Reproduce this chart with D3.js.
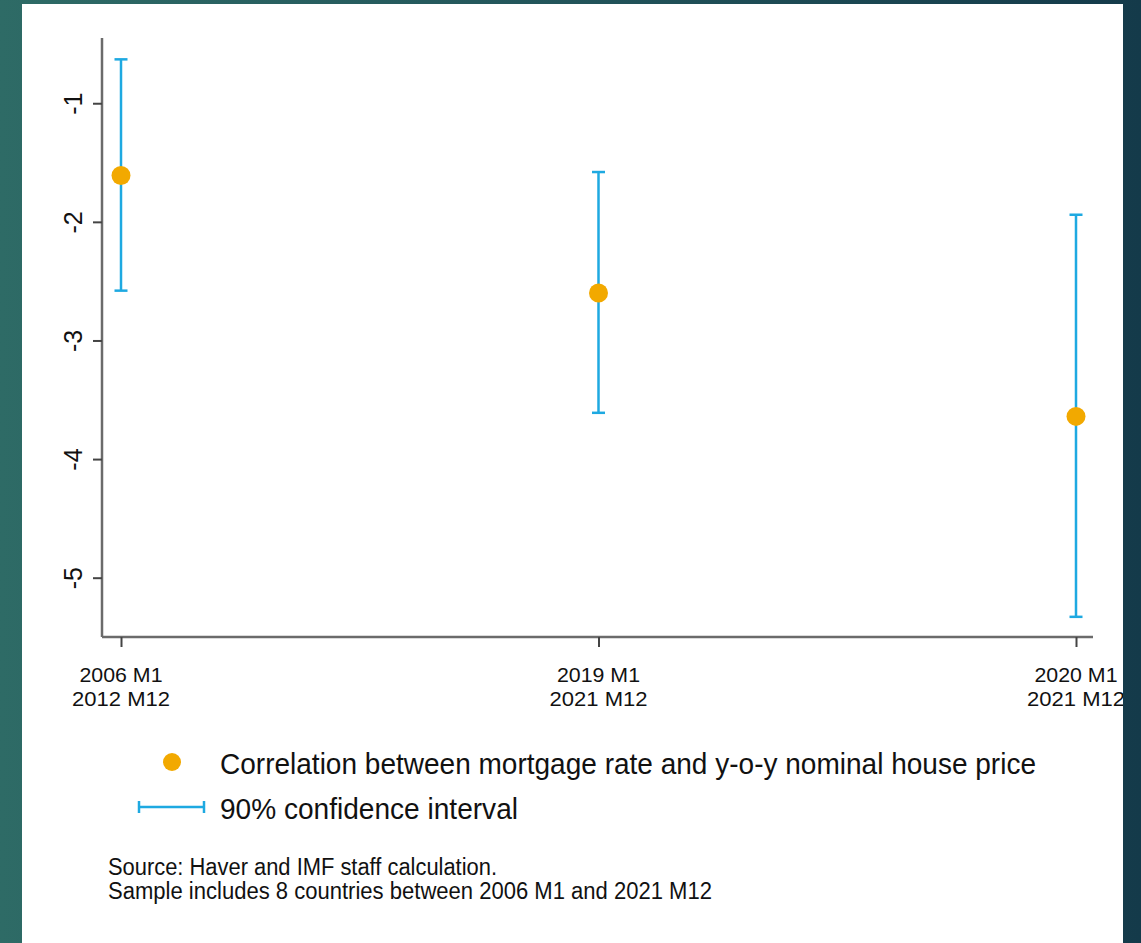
<!DOCTYPE html>
<html>
<head>
<meta charset="utf-8">
<script src="https://cdn.jsdelivr.net/npm/d3@7"></script>
<style>
  html, body { margin: 0; padding: 0; background: #1f5258; }
  svg { display: block; }
  text { font-family: "Liberation Sans Narrow", "Arial Narrow", "Liberation Sans", Arial, sans-serif; fill: #111; }
</style>
</head>
<body>
<script>
// Sample windows (two-line labels), point estimates and 90% confidence bounds
const periodStart = ["2006 M1", "2019 M1", "2020 M1"];
const periodEnd = ["2012 M12", "2021 M12", "2021 M12"];
const coefficient = [-1.61, -2.60, -3.64];
const ciLow = [-2.58, -3.61, -5.33];
const ciHigh = [-0.63, -1.58, -1.94];
const yTicks = [-1, -2, -3, -4, -5];
const legendLabels = ["Correlation between mortgage rate and y-o-y nominal house price", "90% confidence interval"];
const notes = ["Source: Haver and IMF staff calculation.", "Sample includes 8 countries between 2006 M1 and 2021 M12"];

const W = 1141, H = 943;
const panel = { x: 22, y: 4, w: 1101, h: 945 };
const ORANGE = "#f2a900", BLUE = "#1ea9e1", AXIS = "#6b6b6b";

const svg = d3.select("body").append("svg").attr("width", W).attr("height", H);
const defs = svg.append("defs");

const grad = defs.append("linearGradient").attr("id", "bg").attr("x1", 0).attr("y1", 0).attr("x2", 1).attr("y2", 0);
grad.append("stop").attr("offset", "0%").attr("stop-color", "#2e6b66");
grad.append("stop").attr("offset", "50%").attr("stop-color", "#22545a");
grad.append("stop").attr("offset", "100%").attr("stop-color", "#143a4a");
svg.append("rect").attr("width", W).attr("height", H).attr("fill", "url(#bg)");

defs.append("clipPath").attr("id", "panelClip").append("rect")
  .attr("x", panel.x).attr("y", panel.y).attr("width", panel.w).attr("height", panel.h);
svg.append("rect").attr("x", panel.x).attr("y", panel.y).attr("width", panel.w).attr("height", panel.h).attr("fill", "#fff");

const g = svg.append("g").attr("clip-path", "url(#panelClip)");

// Scales
const plot = { left: 102, right: 1093, top: 38, bottom: 637 };
const x = d3.scalePoint().domain(d3.range(coefficient.length)).range([121, 1076]);
const y = d3.scaleLinear().domain([-5.5, -0.45]).range([plot.bottom, plot.top]);

// Y axis (rotated labels, plain hyphen for the sign)
const yAxis = g.append("g").attr("transform", `translate(${plot.left},0)`)
  .call(d3.axisLeft(y).tickValues(yTicks).tickSize(9).tickPadding(0).tickFormat(d => String(d)));
yAxis.select(".domain").attr("d", `M0,${plot.top}V${plot.bottom}`).attr("stroke", AXIS).attr("stroke-width", 2.5);
yAxis.selectAll(".tick line").attr("stroke", "#444").attr("stroke-width", 2);
yAxis.selectAll(".tick text")
  .attr("x", null).attr("dy", null)
  .attr("transform", "translate(-20,0) rotate(-90)")
  .attr("text-anchor", "middle").attr("y", 0)
  .style("font-size", "25px").style("font-family", "'Liberation Sans', Arial, sans-serif")
  .attr("fill", "#111");

// X axis
const xAxis = g.append("g").attr("transform", `translate(0,${plot.bottom})`)
  .call(d3.axisBottom(x).tickSize(10).tickFormat(""));
xAxis.select(".domain").attr("d", `M${plot.left},0H${plot.right}`).attr("stroke", AXIS).attr("stroke-width", 2.5);
xAxis.selectAll(".tick line").attr("stroke", "#444").attr("stroke-width", 2);

const xl = g.append("g").selectAll("g").data(coefficient).join("g")
  .attr("transform", (d, i) => `translate(${x(i)},0)`);
xl.append("text").attr("y", 682).attr("text-anchor", "middle").style("font-size", "21px")
  .attr("textLength", 83).attr("lengthAdjust", "spacingAndGlyphs")
  .text((d, i) => periodStart[i]);
xl.append("text").attr("y", 706).attr("text-anchor", "middle").style("font-size", "21px")
  .attr("textLength", 98).attr("lengthAdjust", "spacingAndGlyphs")
  .text((d, i) => periodEnd[i]);

// Confidence intervals
const ci = g.append("g").attr("stroke", BLUE).attr("stroke-width", 2.5).attr("fill", "none");
const capW = 6.5;
coefficient.forEach((d, i) => {
  ci.append("line").attr("x1", x(i)).attr("x2", x(i)).attr("y1", y(ciHigh[i])).attr("y2", y(ciLow[i]));
  ci.append("line").attr("x1", x(i) - capW).attr("x2", x(i) + capW).attr("y1", y(ciHigh[i])).attr("y2", y(ciHigh[i]));
  ci.append("line").attr("x1", x(i) - capW).attr("x2", x(i) + capW).attr("y1", y(ciLow[i])).attr("y2", y(ciLow[i]));
});

// Point estimates
g.append("g").selectAll("circle").data(coefficient).join("circle")
  .attr("cx", (d, i) => x(i)).attr("cy", d => y(d)).attr("r", 9.5).attr("fill", ORANGE);

// Legend
const lg = g.append("g");
lg.append("circle").attr("cx", 172).attr("cy", 762).attr("r", 9).attr("fill", ORANGE);
lg.append("text").attr("x", 220).attr("y", 774).style("font-size", "29px")
  .attr("textLength", 816).attr("lengthAdjust", "spacingAndGlyphs").text(legendLabels[0]);
const ls = lg.append("g").attr("stroke", BLUE).attr("stroke-width", 2.5);
ls.append("line").attr("x1", 139).attr("x2", 204).attr("y1", 807).attr("y2", 807);
ls.append("line").attr("x1", 139).attr("x2", 139).attr("y1", 801).attr("y2", 813);
ls.append("line").attr("x1", 204).attr("x2", 204).attr("y1", 801).attr("y2", 813);
lg.append("text").attr("x", 220).attr("y", 819).style("font-size", "29px")
  .attr("textLength", 298).attr("lengthAdjust", "spacingAndGlyphs").text(legendLabels[1]);

// Notes
g.append("text").attr("x", 108).attr("y", 875).style("font-size", "23px")
  .attr("textLength", 389).attr("lengthAdjust", "spacingAndGlyphs").text(notes[0]);
g.append("text").attr("x", 108).attr("y", 899).style("font-size", "23px")
  .attr("textLength", 604).attr("lengthAdjust", "spacingAndGlyphs").text(notes[1]);
</script>
</body>
</html>
